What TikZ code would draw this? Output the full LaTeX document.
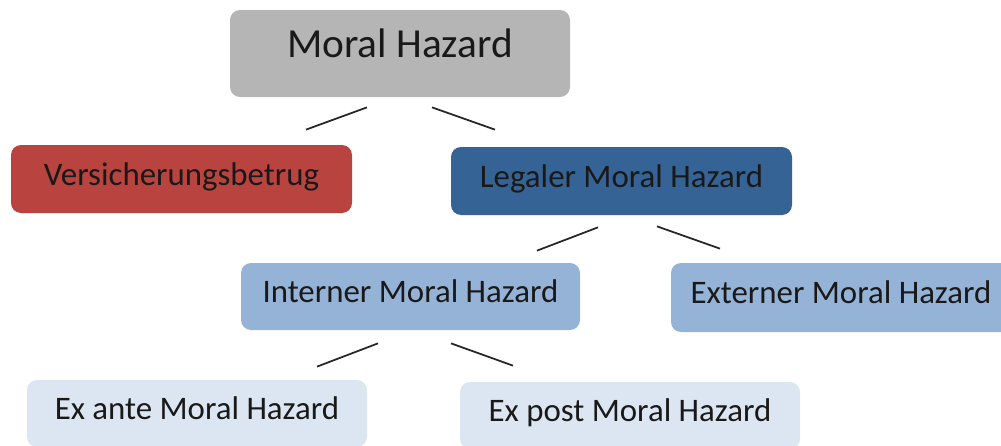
\documentclass[tikz,border=0pt]{standalone}
\usepackage{fontspec}
\setmainfont{Carlito}
\usepackage{xcolor}
\definecolor{topgray}{HTML}{B5B5B5}
\definecolor{fraudred}{HTML}{B9443F}
\definecolor{legalblue}{HTML}{366395}
\definecolor{midblue}{HTML}{95B3D7}
\definecolor{paleblue}{HTML}{DCE6F2}
\tikzstyle{box} = [rectangle, rounded corners=0.2cm, inner sep=0pt,
    minimum width=6.8cm, minimum height=1.36cm, text=black!90,
    text height=0.44cm, text depth=0.2cm,
    font=\fontsize{18.7}{21}\selectfont]
\tikzstyle{root} = [box, fill=topgray, minimum height=1.74cm,
    text height=0.52cm, text depth=0.36cm, font=\fontsize{23.5}{26}\selectfont]
\tikzstyle{fraud} = [box, fill=fraudred]
\tikzstyle{legal} = [box, fill=legalblue]
\tikzstyle{kind} = [box, fill=midblue]
\tikzstyle{time} = [box, fill=paleblue]
\tikzstyle{link} = [draw, line width=1pt, black!85]

\begin{document}
\begin{tikzpicture}

    \useasboundingbox (0,0) rectangle (20.02,-8.92);
    \clip (0,0) rectangle (20.02,-8.92);

    % Nodes
    \node [root] (mh) at (8.0,-1.07) {Moral Hazard};
    \node [fraud, minimum width=6.82cm] (vb) at (3.63,-3.58) {Versicherungsbetrug};
    \node [legal, minimum width=6.82cm] (lmh) at (12.43,-3.62) {Legaler Moral Hazard};
    \node [kind, minimum width=6.78cm, minimum height=1.34cm] (imh) at (8.21,-5.93) {Interner Moral Hazard};
    \node [kind, minimum height=1.38cm] (emh) at (16.82,-5.95) {Externer Moral Hazard};
    \node [time, minimum height=1.34cm] (exa) at (3.94,-8.27) {Ex ante Moral Hazard};
    \node [time, minimum height=1.34cm] (exp) at (12.6,-8.31) {Ex post Moral Hazard};

    % Connections
    \draw [link] ([xshift=-0.66cm,yshift=-0.20cm]mh.south) -- ([xshift=2.49cm,yshift=0.30cm]vb.north);
    \draw [link] ([xshift=0.64cm,yshift=-0.20cm]mh.south) -- ([xshift=-2.53cm,yshift=0.34cm]lmh.north);
    \draw [link] ([xshift=-0.47cm,yshift=-0.24cm]lmh.south) -- ([xshift=2.53cm,yshift=0.24cm]imh.north);
    \draw [link] ([xshift=0.71cm,yshift=-0.22cm]lmh.south) -- ([xshift=-2.42cm,yshift=0.28cm]emh.north);
    \draw [link] ([xshift=-0.65cm,yshift=-0.26cm]imh.south) -- ([xshift=2.40cm,yshift=0.26cm]exa.north);
    \draw [link] ([xshift=0.81cm,yshift=-0.26cm]imh.south) -- ([xshift=-2.34cm,yshift=0.32cm]exp.north);

\end{tikzpicture}
\end{document}
